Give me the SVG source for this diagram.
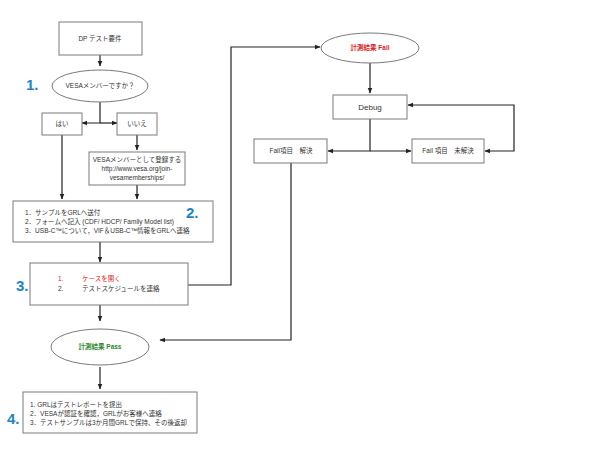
<svg xmlns="http://www.w3.org/2000/svg" width="600" height="454" viewBox="0 0 600 454">
<style>
.b{fill:#fff;stroke:#7a7a7a;stroke-width:1}
.t{font-family:"Liberation Sans","Noto Sans CJK JP",sans-serif;font-size:6.5px;fill:#333}
.c{text-anchor:middle}
.n{font-family:"Liberation Sans",sans-serif;font-size:15px;font-weight:bold;fill:#1a86c8}
.l{fill:none;stroke:#222;stroke-width:1.2}
</style>
<defs><marker id="a" viewBox="0 0 10 10" refX="9" refY="5" markerWidth="5" markerHeight="5" orient="auto-start-reverse"><path d="M0,1L10,5L0,9z" fill="#222"/></marker></defs>
<rect width="600" height="454" fill="#fff"/>
<g id="connectors">
<path class="l" d="M100,55V66" marker-end="url(#a)"/>
<path class="l" d="M100,102V123H82" marker-end="url(#a)"/>
<path class="l" d="M100,123H117" marker-end="url(#a)"/>
<path class="l" d="M137,135V150" marker-end="url(#a)"/>
<path class="l" d="M62,135V199" marker-end="url(#a)"/>
<path class="l" d="M137,185V199" marker-end="url(#a)"/>
<path class="l" d="M100,242V262" marker-end="url(#a)"/>
<path class="l" d="M188,285H231V47H320" marker-end="url(#a)"/>
<path class="l" d="M370,63V93" marker-end="url(#a)"/>
<path class="l" d="M370,119V151H328" marker-end="url(#a)"/>
<path class="l" d="M370,151H411" marker-end="url(#a)"/>
<path class="l" d="M485,151H514V105H408" marker-start="url(#a)" marker-end="url(#a)"/>
<path class="l" d="M291,163V340H160" marker-end="url(#a)"/>
<path class="l" d="M100,305V321" marker-end="url(#a)"/>
<path class="l" d="M100,367V389" marker-end="url(#a)"/>
</g>
<g id="dp"><rect class="b" x="59" y="22" width="83" height="33"/><text class="t c" x="100" y="41">DP テスト要件</text></g>
<g id="q1"><text class="n" x="26" y="90">1.</text><ellipse class="b" cx="100" cy="86" rx="48" ry="16"/><text class="t c" x="100" y="88">VESAメンバーですか？</text></g>
<g id="yes"><rect class="b" x="42" y="113" width="40" height="22"/><text class="t c" x="62" y="126">はい</text></g>
<g id="no"><rect class="b" x="117" y="113" width="40" height="22"/><text class="t c" x="137" y="126">いいえ</text></g>
<g id="reg"><rect class="b" x="89" y="152" width="96" height="33"/><text class="t c" x="137" y="162">VESAメンバーとして登録する</text><text class="t c" x="137" y="171">http://www.vesa.org/join-</text><text class="t c" x="137" y="180">vesamemberships/</text></g>
<g id="s2"><rect class="b" x="13" y="201" width="200" height="41"/><text class="n" x="186" y="218">2.</text>
<text class="t" x="25" y="215">1．サンプルをGRLへ送付</text><text class="t" x="25" y="224">2．フォームへ記入 (CDF/ HDCP/ Family Model list)</text><text class="t" x="25" y="233">3．USB-C™について，VIF＆USB-C™情報をGRLへ連絡</text></g>
<g id="s3"><text class="n" x="16" y="291">3.</text><rect class="b" x="30" y="263" width="158" height="42"/><text class="t" x="58" y="281" fill="#e02020" style="fill:#e02020">1.</text><text class="t" x="82" y="281" style="fill:#e02020">ケースを開く</text><text class="t" x="58" y="291">2.</text><text class="t" x="82" y="291">テストスケジュールを連絡</text></g>
<g id="fail"><ellipse class="b" cx="370" cy="48" rx="49" ry="15"/><text class="t c" x="370" y="50" style="fill:#e02020;font-weight:bold">計測結果 Fail</text></g>
<g id="debug"><rect class="b" x="333" y="95" width="74" height="24"/><text class="t c" x="370" y="110" style="font-size:8px">Debug</text></g>
<g id="solved"><rect class="b" x="254" y="139" width="73" height="24"/><text class="t c" x="291" y="153">Fail項目　解決</text></g>
<g id="unsolved"><rect class="b" x="412" y="139" width="72" height="24"/><text class="t c" x="448" y="153">Fail 項目　未解決</text></g>
<g id="pass"><ellipse class="b" cx="100" cy="347" rx="49" ry="18"/><text class="t c" x="100" y="349" style="fill:#2a8a2a;font-weight:bold">計測結果 Pass</text></g>
<g id="s4"><text class="n" x="7" y="424">4.</text><rect class="b" x="23" y="392" width="174" height="41"/><text class="t" x="30" y="407">1. GRLはテストレポートを提出</text><text class="t" x="30" y="416">2．VESAが認証を確認，GRLがお客様へ連絡</text><text class="t" x="30" y="425">3．テストサンプルは3か月間GRLで保持、その後返却</text></g>
</svg>
